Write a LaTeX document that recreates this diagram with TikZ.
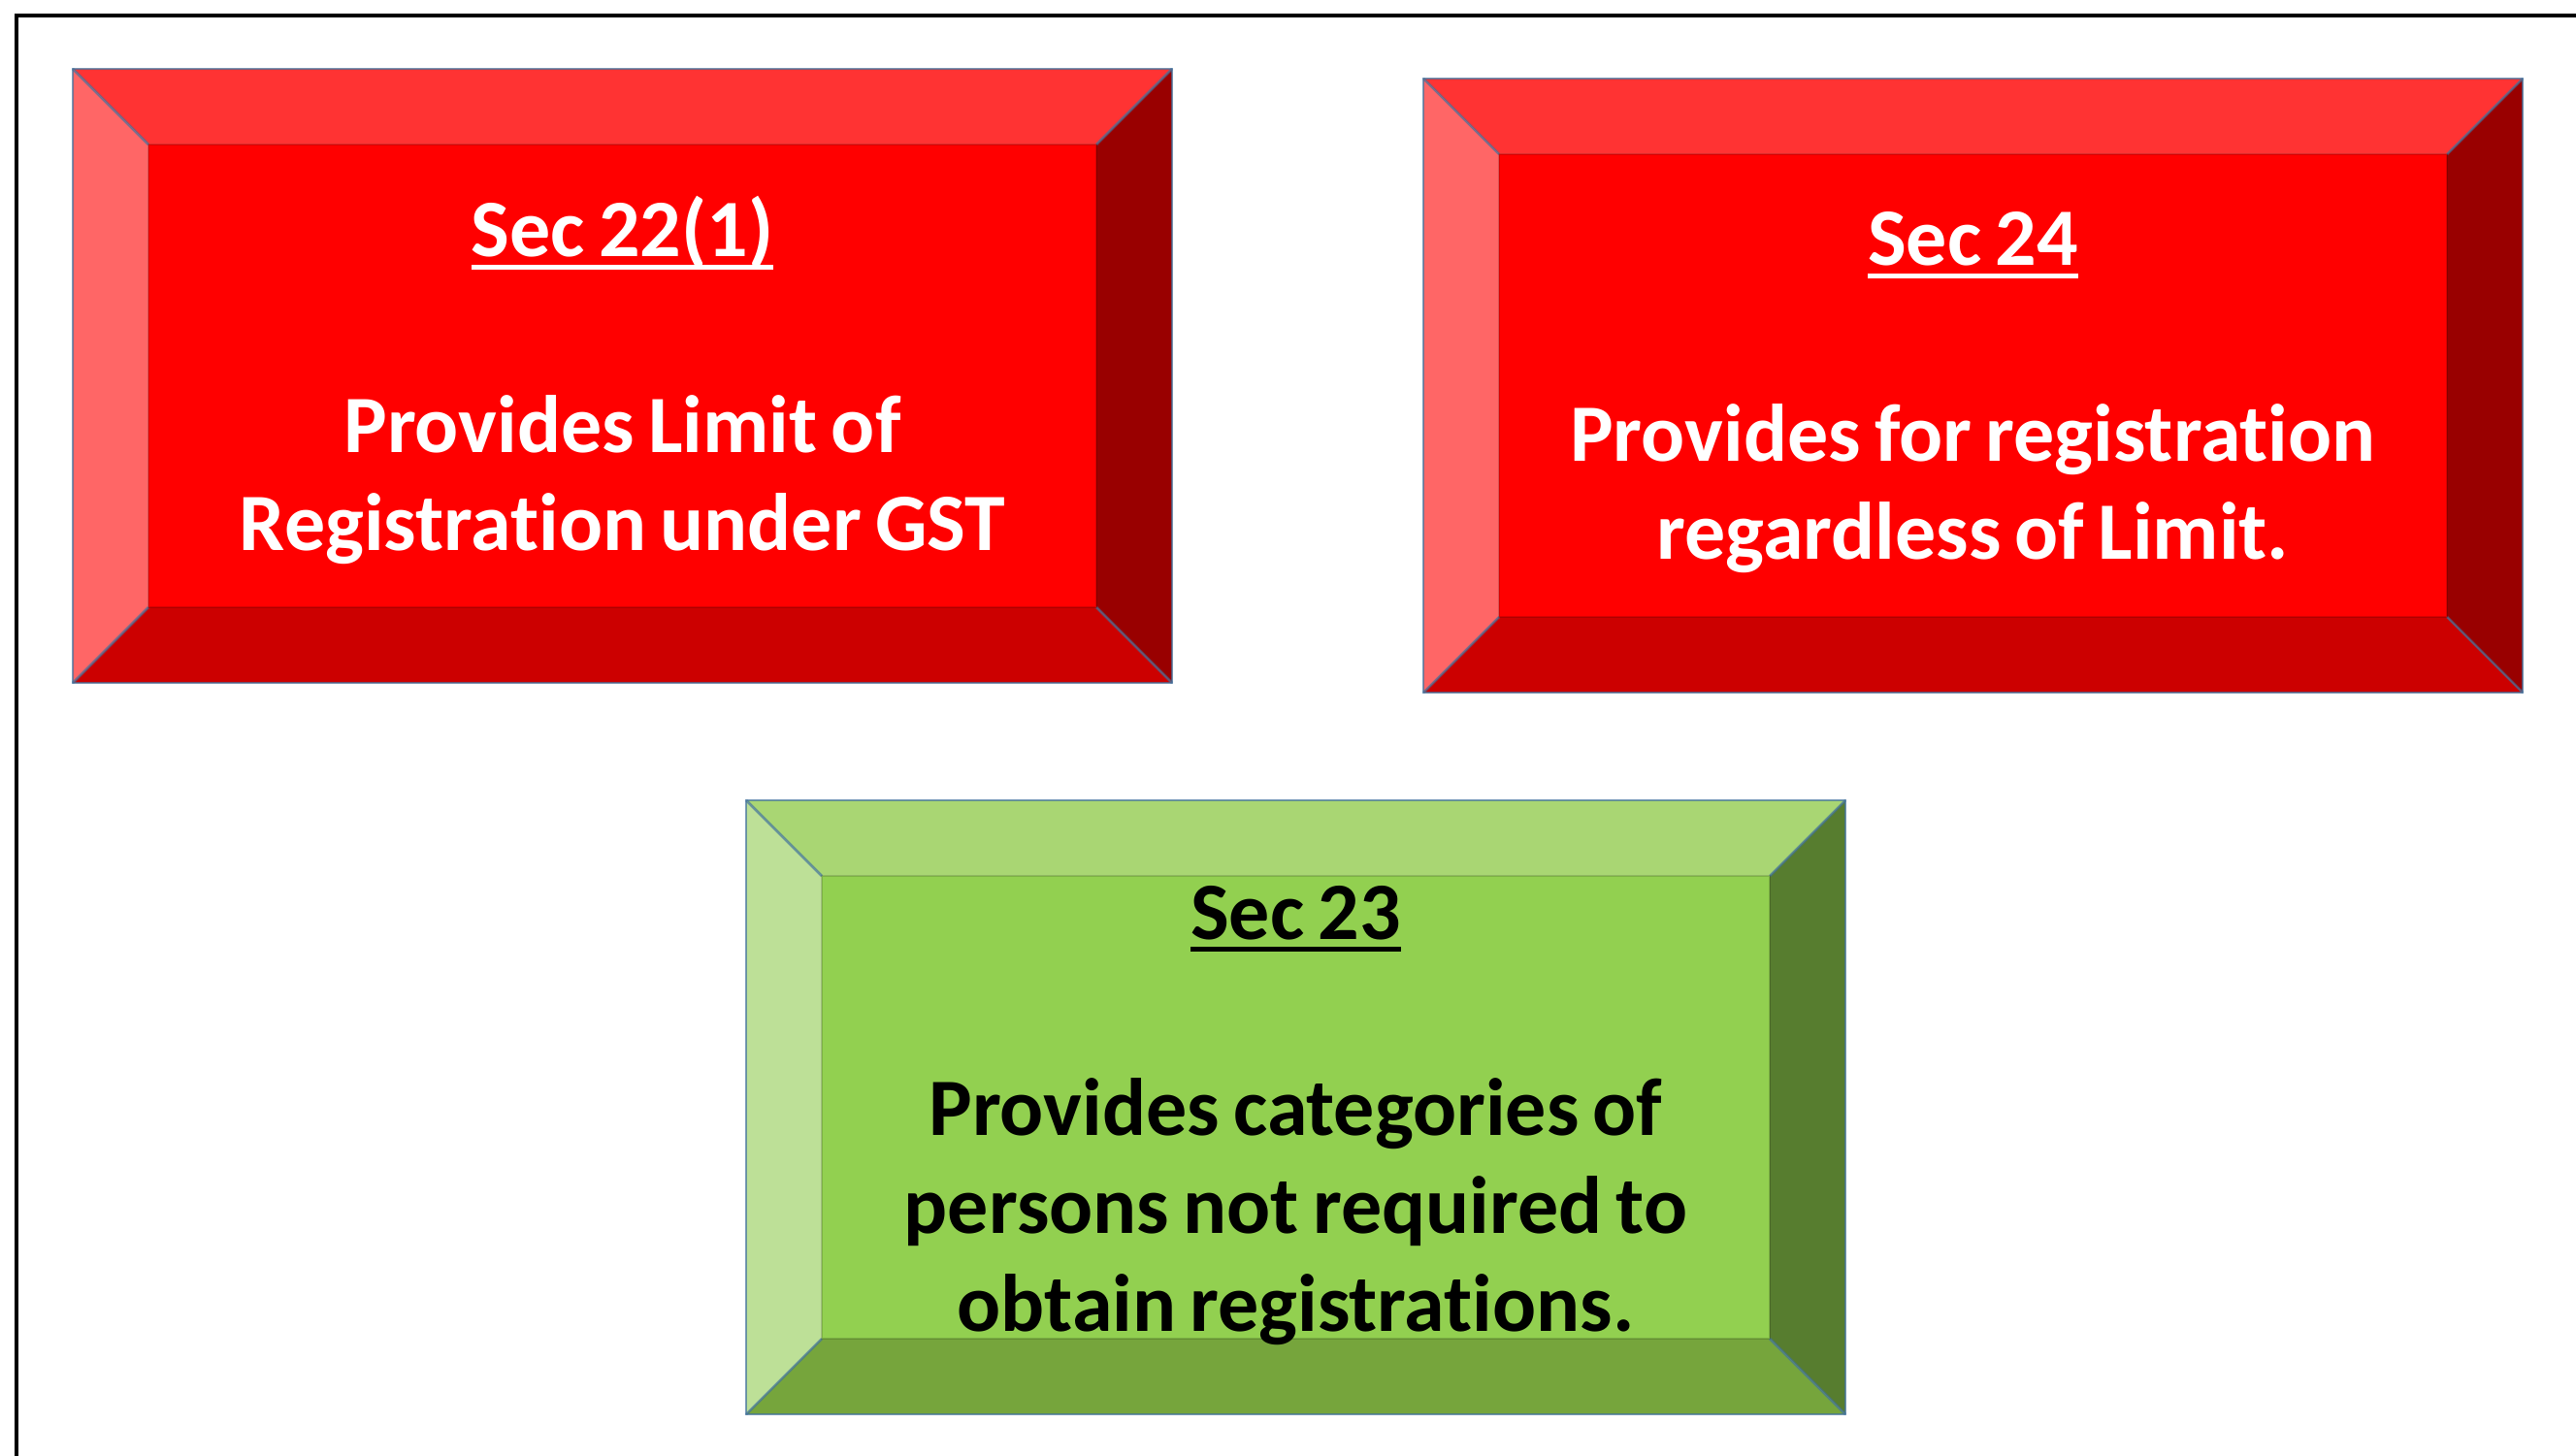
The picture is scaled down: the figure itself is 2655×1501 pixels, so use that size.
\documentclass[tikz,border=0pt]{standalone}
\usepackage{fontspec}
\setmainfont[Ligatures=NoCommon, WordSpace=0.75]{Carlito}
\definecolor{rtop}{HTML}{FF3333}
\definecolor{rleft}{HTML}{FF6666}
\definecolor{rmid}{HTML}{FF0000}
\definecolor{rright}{HTML}{990000}
\definecolor{rbot}{HTML}{CC0000}
\definecolor{gtop}{HTML}{A9D673}
\definecolor{gleft}{HTML}{BDE097}
\definecolor{gmid}{HTML}{92D050}
\definecolor{gright}{HTML}{577D2F}
\definecolor{gbot}{HTML}{76A53C}
\definecolor{edge}{HTML}{41719C}
\tikzset{
  bevline/.style={draw=edge, draw opacity=0.7, line width=2.5pt},
  boxtext/.style={align=center, inner sep=0pt,
    font=\bfseries\fontsize{84}{101}\selectfont},
}
\newcommand\hdr[1]{\setbox0\hbox{#1}\leavevmode\rlap{\rule[-13pt]{\wd0}{5pt}}\box0}
% #1 colour prefix, #2 x1, #3 y1, #4 x2, #5 y2 ; bevel 78
\newcommand\bevbox[5]{%
  \fill[#1top] (#2,#3) -- (#4,#3) -- (#4-78,#3+78) -- (#2+78,#3+78) -- cycle;
  \fill[#1left] (#2,#3) -- (#2+78,#3+78) -- (#2+78,#5-78) -- (#2,#5) -- cycle;
  \fill[#1right] (#4,#3) -- (#4,#5) -- (#4-78,#5-78) -- (#4-78,#3+78) -- cycle;
  \fill[#1bot] (#2,#5) -- (#2+78,#5-78) -- (#4-78,#5-78) -- (#4,#5) -- cycle;
  \fill[#1mid] (#2+78,#3+78) rectangle (#4-78,#5-78);
  \draw[bevline] (#2,#3) -- (#2+78,#3+78) (#4,#3) -- (#4-78,#3+78)
    (#2,#5) -- (#2+78,#5-78) (#4,#5) -- (#4-78,#5-78);
  \draw[draw=black, draw opacity=0.15, line width=1.5pt] (#2+78,#3+78) rectangle (#4-78,#5-78);
  \draw[bevline] (#2,#3) rectangle (#4,#5);
}
\begin{document}
\begin{tikzpicture}[x=1pt,y=-1pt]
\useasboundingbox (0,0) rectangle (2655,1501);
\draw[line width=4pt, black] (17,1510) -- (17,16) -- (2665,16);

\bevbox{r}{75}{71}{1208}{704}
\bevbox{r}{1467}{81}{2600}{714}
\bevbox{g}{769}{825}{1902}{1458}

\node[boxtext, text=white] (s22) at (641.5,392)
  {\hdr{Sec 22(1)}\\[101pt]Provides Limit of\\Registration under GST};
\node[boxtext, text=white] (s24) at (2033.5,405)
  {\hdr{Sec 24}\\[101pt]Provides for registration\\regardless of Limit.};
\node[boxtext, text=black] (s23) at (1335.5,1150)
  {\hdr{Sec 23}\\[101pt]Provides categories of\\persons not required to\\obtain registrations.};
\end{tikzpicture}
\end{document}
